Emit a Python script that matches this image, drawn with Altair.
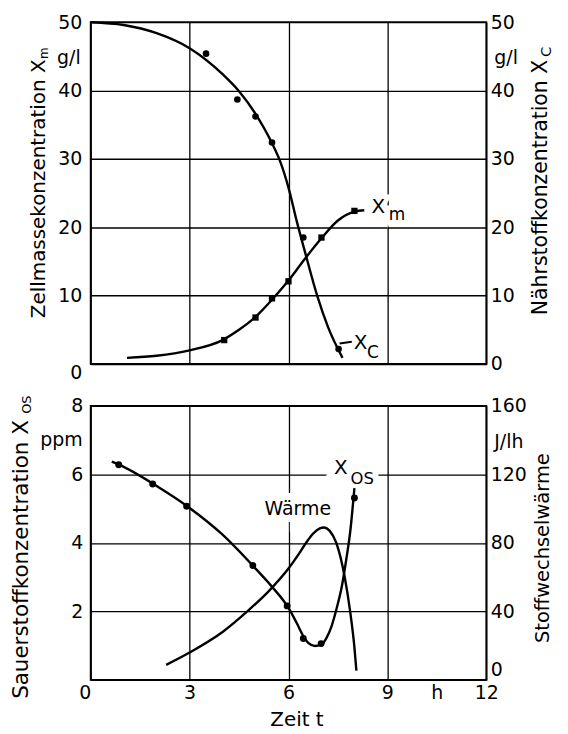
import altair as alt
import pandas as pd

FONT = "DejaVu Sans"

# ---------------- top panel data (t in h, values in g/l) ----------------
xc_t = [0, 1, 2, 3, 4, 4.5, 5, 5.5, 5.75, 6.0, 6.25, 6.5, 6.87, 7.2, 7.64]
xc_v = [50, 49.6, 48.4, 46.2, 42.4, 39.9, 36.6, 32.3, 29.6, 25.8, 20.9, 16.4, 10, 5.4, 0.9]
xc_pt_t = [3.5, 4.45, 5.0, 5.5, 6.45, 7.52]
xc_pt_v = [45.4, 38.7, 36.2, 32.4, 18.5, 2.2]

xm_t = [1.1, 2, 3, 4, 4.5, 5, 5.5, 6, 6.5, 7, 7.5, 8, 8.3]
xm_v = [0.9, 1.2, 2.0, 3.5, 5.0, 6.9, 9.4, 12.2, 15.4, 18.4, 21.0, 22.3, 22.5]
xm_pt_t = [4.05, 5.0, 5.5, 6.0, 7.0, 8.0]
xm_pt_v = [3.5, 6.8, 9.6, 12.1, 18.5, 22.4]

# ---------------- bottom panel data ----------------
xos_t = [0.64, 1.0, 2.0, 3.0, 4.0, 5.0, 5.5, 6.0, 6.25, 6.45, 6.6, 6.8, 7.0, 7.15, 7.3, 7.45,
         7.62, 7.75, 7.88, 8.0]
xos_v = [6.37, 6.22, 5.66, 5.02, 4.24, 3.25, 2.72, 2.1, 1.66, 1.28, 1.08, 0.99, 1.03, 1.22,
         1.55, 2.05, 2.74, 3.5, 4.39, 5.6]
xos_pt_t = [0.85, 1.88, 2.91, 4.92, 5.96, 6.45, 6.99, 8.0]
xos_pt_v = [6.28, 5.72, 5.07, 3.34, 2.16, 1.21, 1.06, 5.31]

w_t = [2.29, 3.0, 4.0, 4.75, 5.41, 6.0, 6.33, 6.55, 6.75, 6.95, 7.08, 7.25, 7.45, 7.7, 7.87,
       8.0, 8.06]
w_v = [8.8, 16, 28, 40, 52, 65, 74, 80.5, 85.5, 88.5, 89, 87, 80, 60.6, 40, 19, 5.4]

x_ticks_top = [0, 3, 6, 9, 12]
x_ticks_bot = [0, 3, 6, 9, 10.5, 12]
y_top_ticks = [0, 10, 20, 30, 40, 50]
y_os_ticks = [0, 2, 4, 6, 8]
y_w_ticks = [0, 40, 80, 120, 160]

W, H_TOP, H_BOT = 397, 343, 275

# ---------------- helpers ----------------
xscale = alt.Scale(domain=[0, 12], nice=False, zero=False)


def x_enc(axis):
    return alt.X("t:Q", scale=xscale, axis=axis)


x_axis_top = alt.Axis(values=x_ticks_top, grid=True, labels=False, ticks=False,
                      domain=False, title=None)
x_axis_bot = alt.Axis(
    values=x_ticks_bot, grid=True, ticks=False, domain=False, title=None,
    labelFlush=False, labelOverlap=False, labelPadding=4,
    labelExpr="datum.value == 10.5 ? 'h' : datum.label",
    gridOpacity={"condition": {"test": "datum.value == 10.5", "value": 0}, "value": 1},
    labelAlign={"condition": {"test": "datum.value == 0", "value": "right"}, "value": "center"},
)


def px_text(s, x, y, size=19, align="left", baseline="alphabetic", angle=None):
    kw = dict(font=FONT, fontSize=size, align=align, baseline=baseline, color="black")
    if angle is not None:
        kw["angle"] = angle
    return alt.Chart(pd.DataFrame({"s": [s]})).mark_text(**kw).encode(
        x=alt.value(x), y=alt.value(y), text="s:N")


def anchor(y):
    return alt.Chart(pd.DataFrame({"a": [0]})).mark_rule(strokeOpacity=0, strokeWidth=1).encode(
        x=alt.value(-89.5), x2=alt.value(477.5), y=alt.value(y))


LINE = dict(color="black", strokeWidth=2.4, interpolate="monotone")

# ---------------- top panel ----------------
ys_top = alt.Scale(domain=[0, 50], nice=False)
df_xc = pd.DataFrame({"t": xc_t, "v": xc_v})
df_xm = pd.DataFrame({"t": xm_t, "v": xm_v})
df_xc_pt = pd.DataFrame({"t": xc_pt_t, "v": xc_pt_v})
df_xm_pt = pd.DataFrame({"t": xm_pt_t, "v": xm_pt_v})

y_left_top = alt.Y("v:Q", scale=ys_top, axis=alt.Axis(
    orient="left", values=y_top_ticks, grid=True, ticks=False, domain=False, title=None,
    labelPadding=9,
    labelBaseline={"condition": {"test": "datum.value == 0", "value": "top"}, "value": "middle"}))
y_right_top = alt.Y("v:Q", scale=ys_top, axis=alt.Axis(
    orient="right", values=y_top_ticks, grid=False, ticks=False, domain=False, title=None,
    labelPadding=4))
y_none_top = alt.Y("v:Q", scale=ys_top, axis=None)

ann_top = pd.DataFrame({
    "s": ["X", "m", "X", "C"],
    "t": [8.52, 9.04, 7.98, 8.38],
    "v": [22.06, 21.1, 2.14, 0.92],
    "fs": [20, 17, 20, 17],
})
conn_top = pd.DataFrame({"t": [7.55], "t2": [7.92], "v": [3.0], "v2": [3.25]})

top_halo = alt.Chart(ann_top).mark_text(font=FONT, align="left", baseline="alphabetic",
                                        fill="white", stroke="white", strokeWidth=9).encode(
    x=x_enc(x_axis_top), y=y_none_top, text="s:N", size=alt.Size("fs:Q", scale=None))
top_xm = alt.Chart(df_xm).mark_line(**LINE).encode(x=x_enc(x_axis_top), y=y_left_top)
top_xc = alt.Chart(df_xc).mark_line(**LINE).encode(x=x_enc(x_axis_top), y=y_right_top)
top_xm_pt = alt.Chart(df_xm_pt).mark_point(shape="square", filled=True, size=40, color="black",
                                           opacity=1).encode(x=x_enc(x_axis_top), y=y_none_top)
top_xc_pt = alt.Chart(df_xc_pt).mark_point(shape="circle", filled=True, size=44, color="black",
                                           opacity=1).encode(x=x_enc(x_axis_top), y=y_none_top)
top_conn = alt.Chart(conn_top).mark_rule(color="black", strokeWidth=2).encode(
    x=x_enc(x_axis_top), x2="t2:Q", y=y_none_top, y2="v2:Q")
top_ann = alt.Chart(ann_top).mark_text(font=FONT, align="left", baseline="alphabetic",
                                       color="black").encode(
    x=x_enc(x_axis_top), y=y_none_top, text="s:N", size=alt.Size("fs:Q", scale=None))

top = alt.layer(
    top_halo, top_xm, top_xc, top_xm_pt, top_xc_pt, top_conn, top_ann,
    px_text("g/l", -10, 36, align="right", baseline="middle"),
    px_text("g/l", 405, 36, align="left", baseline="middle"),
    px_text("Zellmassekonzentration X", -46, 297, size=20, angle=270),
    px_text("m", -42.5, 37, size=12, angle=270),
    px_text("Nährstoffkonzentration X", 458, 294, size=20.5, angle=270),
    px_text("C", 462, 35, size=15, angle=270),
    anchor(-19.5),
).resolve_axis(y="independent").properties(width=W, height=H_TOP)

# ---------------- bottom panel ----------------
ys_os = alt.Scale(domain=[0, 8], nice=False)
ys_w = alt.Scale(domain=[0, 160], nice=False)
df_os = pd.DataFrame({"t": xos_t, "v": xos_v})
df_os_pt = pd.DataFrame({"t": xos_pt_t, "v": xos_pt_v})
df_w = pd.DataFrame({"t": w_t, "w": w_v})

y_left_bot = alt.Y("v:Q", scale=ys_os, axis=alt.Axis(
    orient="left", values=y_os_ticks, grid=True, ticks=False, domain=False, title=None,
    labelPadding=8, labelExpr="datum.value == 0 ? '' : datum.label"))
y_none_bot = alt.Y("v:Q", scale=ys_os, axis=None)
y_right_bot = alt.Y("w:Q", scale=ys_w, axis=alt.Axis(
    orient="right", values=y_w_ticks, grid=False, ticks=False, domain=False, title=None,
    labelPadding=4,
    labelBaseline={"condition": {"test": "datum.value == 0", "value": "bottom"}, "value": "middle"}))

ann_bot = pd.DataFrame({
    "s": ["X", "OS"],
    "t": [7.38, 7.88],
    "v": [6.01, 5.72],
    "fs": [20, 16.5],
})
ann_w = pd.DataFrame({"s": ["Wärme"], "t": [6.28], "v": [5.0]})

bot_halo = alt.Chart(ann_bot).mark_text(font=FONT, align="left", baseline="alphabetic",
                                        fill="white", stroke="white", strokeWidth=12).encode(
    x=x_enc(x_axis_bot), y=y_none_bot, text="s:N", size=alt.Size("fs:Q", scale=None))
bot_halo_w = alt.Chart(ann_w).mark_text(font=FONT, fontSize=19, align="center", baseline="middle",
                                        fill="white", stroke="white", strokeWidth=14).encode(
    x=x_enc(x_axis_bot), y=y_none_bot, text="s:N")
bot_os = alt.Chart(df_os).mark_line(**LINE).encode(x=x_enc(x_axis_bot), y=y_left_bot)
bot_os_pt = alt.Chart(df_os_pt).mark_point(shape="circle", filled=True, size=48, color="black",
                                           opacity=1).encode(x=x_enc(x_axis_bot), y=y_none_bot)
bot_w = alt.Chart(df_w).mark_line(**LINE).encode(x=x_enc(x_axis_bot), y=y_right_bot)
bot_ann = alt.Chart(ann_bot).mark_text(font=FONT, align="left", baseline="alphabetic",
                                       color="black").encode(
    x=x_enc(x_axis_bot), y=y_none_bot, text="s:N", size=alt.Size("fs:Q", scale=None))
bot_ann_w = alt.Chart(ann_w).mark_text(font=FONT, fontSize=19, align="center", baseline="middle",
                                       color="black").encode(
    x=x_enc(x_axis_bot), y=y_none_bot, text="s:N")

bot = alt.layer(
    bot_halo, bot_halo_w, bot_os, bot_w, bot_os_pt, bot_ann, bot_ann_w,
    px_text("ppm", -8, 40, align="right"),
    px_text("J/lh", 405, 42, align="left"),
    px_text("Sauerstoffkonzentration X", -63, 294, size=21.5, angle=270),
    px_text("OS", -60, 8, size=13, angle=270),
    px_text("Stoffwechselwärme", 460, 238, size=19.5, angle=270),
    px_text("Zeit t", 207, 321, size=20, align="center"),
    anchor(328.5),
).resolve_scale(y="independent").resolve_axis(y="independent").properties(width=W, height=H_BOT)

chart = alt.vconcat(top, bot, spacing=42, bounds="flush").properties(
    padding=0, background="white"
).configure_view(
    stroke="black", strokeWidth=1.8
).configure_axis(
    labelFont=FONT, labelFontSize=19, labelColor="black",
    gridColor="black", gridWidth=1.3, gridOpacity=1,
)

chart.save("out.html", embed_options={"renderer": "svg", "actions": False})
